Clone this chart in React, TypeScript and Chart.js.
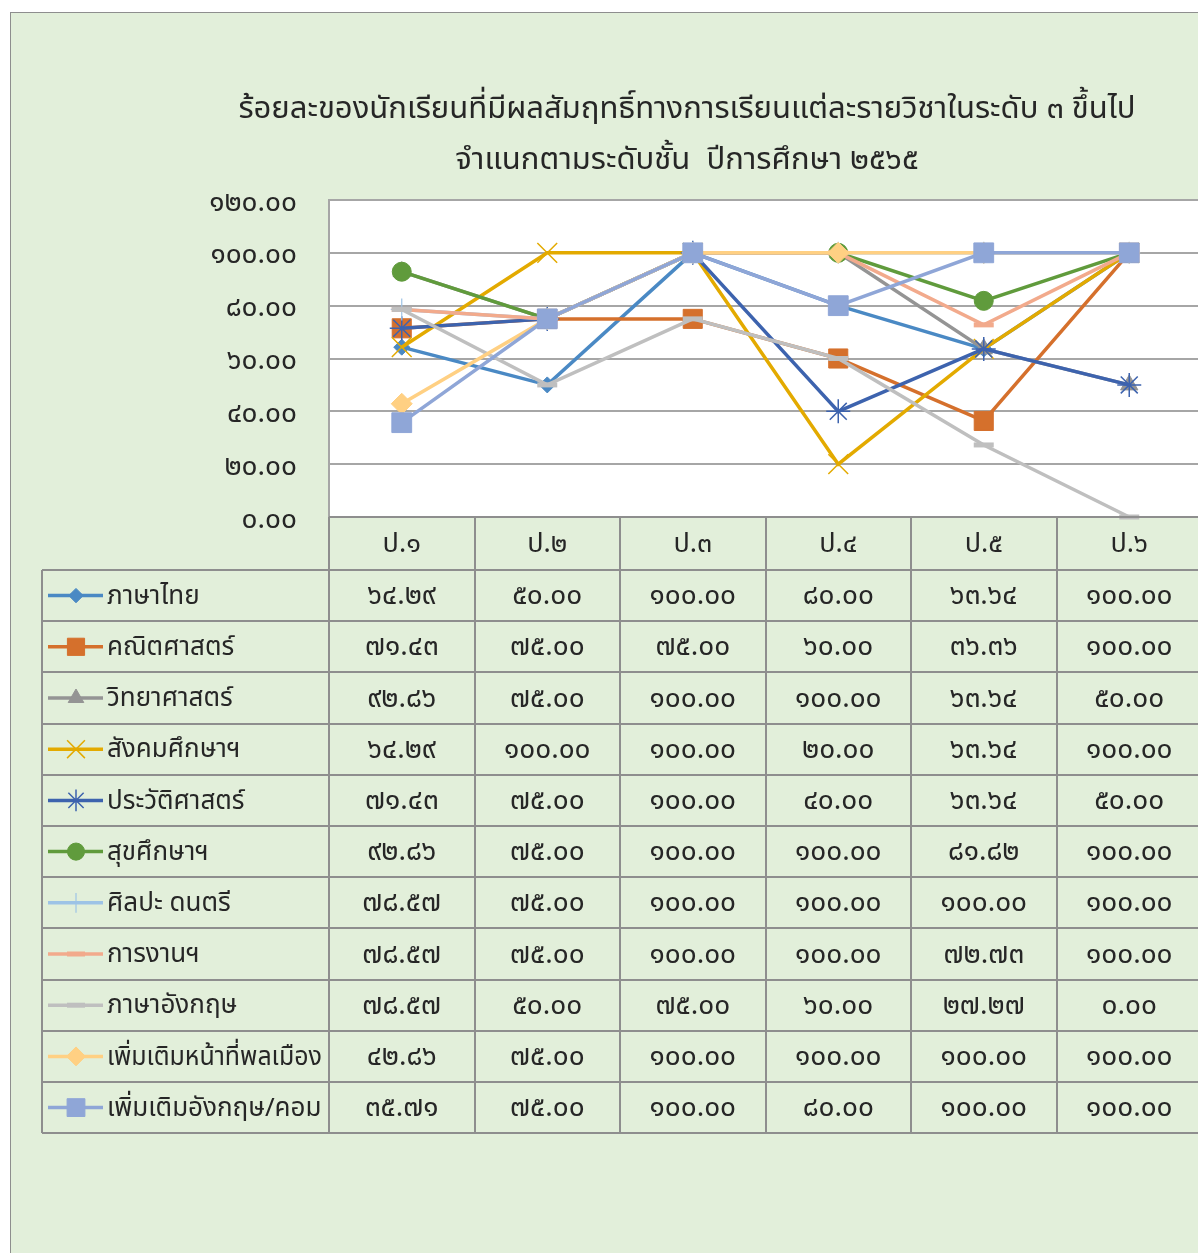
import React, { useEffect, useRef } from 'react';
import { Chart, registerables } from 'chart.js';
import { drawPoint } from 'chart.js/helpers';

Chart.register(...registerables);

// ---------- data ----------
const titleLines = [
  'ร้อยละของนักเรียนที่มีผลสัมฤทธิ์ทางการเรียนแต่ละรายวิชาในระดับ ๓ ขึ้นไป',
  'จำแนกตามระดับชั้น  ปีการศึกษา ๒๕๖๕',
];
const categories = ['ป.๑', 'ป.๒', 'ป.๓', 'ป.๔', 'ป.๕', 'ป.๖'];
const subjects = [
  'ภาษาไทย',
  'คณิตศาสตร์',
  'วิทยาศาสตร์',
  'สังคมศึกษาฯ',
  'ประวัติศาสตร์',
  'สุขศึกษาฯ',
  'ศิลปะ ดนตรี',
  'การงานฯ',
  'ภาษาอังกฤษ',
  'เพิ่มเติมหน้าที่พลเมือง',
  'เพิ่มเติมอังกฤษ/คอม',
];
const thai = [64.29, 50.0, 100.0, 80.0, 63.64, 100.0];
const math = [71.43, 75.0, 75.0, 60.0, 36.36, 100.0];
const science = [92.86, 75.0, 100.0, 100.0, 63.64, 50.0];
const social = [64.29, 100.0, 100.0, 20.0, 63.64, 100.0];
const history = [71.43, 75.0, 100.0, 40.0, 63.64, 50.0];
const health = [92.86, 75.0, 100.0, 100.0, 81.82, 100.0];
const arts = [78.57, 75.0, 100.0, 100.0, 100.0, 100.0];
const career = [78.57, 75.0, 100.0, 100.0, 72.73, 100.0];
const english = [78.57, 50.0, 75.0, 60.0, 27.27, 0.0];
const civics = [42.86, 75.0, 100.0, 100.0, 100.0, 100.0];
const engCom = [35.71, 75.0, 100.0, 80.0, 100.0, 100.0];
const seriesValues = [thai, math, science, social, history, health, arts, career, english, civics, engCom];
const yMin = 0;
const yMax = 120;
const yStep = 20;

// ---------- styles ----------
const colors = ['#4A89C4', '#D5702C', '#949494', '#E3AA00', '#3D63AE', '#609B3C', '#9DC3E6', '#F2AA8C', '#BFBFBF', '#FFD083', '#8FA6D7'];
const pointStyles: any[] = ['rectRot', 'rect', 'triangle', 'crossRot', 'star', 'circle', 'cross', 'line', 'line', 'rectRot', 'rect'];
const pointRadii = [8, 13.5, 10, 14, 12, 9.5, 11, 10, 10, 10.5, 14];
const pointBorderWidths = [1, 1, 1, 1.5, 1.5, 1, 1.2, 5, 5, 1, 1];

const W = 1204;
const H = 1253;
const FONT = 'Tahoma, "Noto Sans Thai", "Noto Sans", sans-serif';
const TEXT = '#262626';
const BG = '#E2EFDA';
const LINE = '#8E8E8E';
const HEADER_H = 53;
const ROW_H = 51.2;
const LEGEND_LEFT = 42;
const NUM_SIZE = 28;
const LABEL_SIZE = 26;

const THAI_DIGITS = '๐๑๒๓๔๕๖๗๘๙';
const toThai = (n: number) => n.toFixed(2).replace(/[0-9]/g, (d) => THAI_DIGITS[+d]);

const decorPlugin = {
  id: 'decor',
  beforeDraw(chart: any) {
    const { ctx, chartArea: a } = chart;
    ctx.save();
    ctx.fillStyle = '#ffffff';
    ctx.fillRect(0, 0, W, H);
    ctx.fillStyle = BG;
    ctx.fillRect(10.5, 12.5, W, H);
    ctx.strokeStyle = LINE;
    ctx.lineWidth = 1;
    ctx.strokeRect(10.5, 12.5, W + 20, H + 20);
    ctx.fillStyle = '#ffffff';
    ctx.fillRect(a.left, a.top, a.right - a.left, a.bottom - a.top);
    ctx.strokeStyle = '#A6A6A6';
    ctx.lineWidth = 2;
    ctx.strokeRect(a.left, a.top, a.right - a.left + 10, a.bottom - a.top);
    // title
    ctx.fillStyle = TEXT;
    ctx.font = `31px ${FONT}`;
    ctx.textAlign = 'center';
    ctx.textBaseline = 'middle';
    ctx.fillText(titleLines[0], 687, 112);
    ctx.fillText(titleLines[1], 687, 163);
    ctx.restore();
  },
  afterDraw(chart: any) {
    const { ctx, chartArea: a, scales } = chart;
    const x = scales.x;
    const n = categories.length;
    const colW = x.getPixelForValue(1) - x.getPixelForValue(0);
    const top = a.bottom;
    const rowsTop = top + HEADER_H;
    const bottom = rowsTop + ROW_H * subjects.length;
    ctx.save();
    ctx.strokeStyle = LINE;
    ctx.lineWidth = 2;
    // horizontal lines
    ctx.beginPath();
    ctx.moveTo(a.left, Math.round(top));
    ctx.lineTo(W, Math.round(top));
    for (let r = 0; r <= subjects.length; r++) {
      const y = Math.round(rowsTop + r * ROW_H);
      ctx.moveTo(LEGEND_LEFT, y);
      ctx.lineTo(W, y);
    }
    // vertical lines
    ctx.moveTo(LEGEND_LEFT, Math.round(rowsTop));
    ctx.lineTo(LEGEND_LEFT, Math.round(bottom));
    for (let i = 0; i <= n; i++) {
      const xx = Math.round(x.getPixelForValue(i) - colW / 2);
      ctx.moveTo(xx, top);
      ctx.lineTo(xx, Math.round(bottom));
    }
    ctx.stroke();

    // header
    ctx.fillStyle = TEXT;
    ctx.textAlign = 'center';
    ctx.textBaseline = 'middle';
    ctx.font = `${LABEL_SIZE + 1}px ${FONT}`;
    categories.forEach((c, i) => {
      ctx.fillText(c, x.getPixelForValue(i), top + HEADER_H / 2 + 3);
    });
    // rows
    seriesValues.forEach((vals, r) => {
      const cy = rowsTop + r * ROW_H + ROW_H / 2 + 3;
      ctx.font = `${NUM_SIZE}px ${FONT}`;
      vals.forEach((v, i) => {
        ctx.textAlign = 'center';
        ctx.fillStyle = TEXT;
        ctx.fillText(toThai(v), x.getPixelForValue(i), cy);
      });
      // legend key
      const ly = rowsTop + r * ROW_H + ROW_H / 2;
      ctx.strokeStyle = colors[r];
      ctx.lineWidth = 3.5;
      ctx.beginPath();
      ctx.moveTo(48, ly);
      ctx.lineTo(103, ly);
      ctx.stroke();
      ctx.fillStyle = colors[r];
      ctx.strokeStyle = colors[r];
      ctx.lineWidth = pointBorderWidths[r];
      drawPoint(ctx, { pointStyle: pointStyles[r], radius: pointRadii[r] * 0.9, rotation: 0, borderWidth: pointBorderWidths[r] } as any, 76, ly);
      ctx.fillStyle = TEXT;
      ctx.textAlign = 'left';
      ctx.font = `${LABEL_SIZE}px ${FONT}`;
      ctx.fillText(subjects[r], 107, cy, a.left - 107 - 7);
    });
    ctx.restore();
  },
};

export default function App() {
  const ref = useRef<HTMLCanvasElement | null>(null);
  useEffect(() => {
    if (!ref.current) return;
    const chart = new Chart(ref.current, {
      type: 'line',
      data: {
        labels: categories,
        datasets: seriesValues.map((vals, i) => ({
          label: subjects[i],
          data: vals,
          borderColor: colors[i],
          backgroundColor: colors[i],
          pointBackgroundColor: colors[i],
          pointBorderColor: colors[i],
          pointStyle: pointStyles[i],
          pointRadius: pointRadii[i],
          pointBorderWidth: pointBorderWidths[i],
          borderWidth: 3.5,
          tension: 0,
          fill: false,
          clip: false as any,
          order: seriesValues.length - i,
        })),
      },
      options: {
        responsive: false,
        animation: false,
        events: [],
        layout: { autoPadding: false, padding: { left: 10, top: 200, right: 2, bottom: H - 517 } },
        plugins: { legend: { display: false }, title: { display: false }, tooltip: { enabled: false } },
        scales: {
          x: { type: 'category', display: false, offset: true },
          y: {
            min: yMin,
            max: yMax,
            afterFit: (s: any) => {
              s.width = 319;
            },
            border: { display: true, color: '#A6A6A6', width: 2 },
            grid: { color: '#A6A6A6', lineWidth: 2, drawTicks: false },
            ticks: {
              stepSize: yStep,
              padding: 32,
              labelOffset: 5,
              color: TEXT,
              font: { family: FONT, size: NUM_SIZE },
              callback: (v: any) => toThai(Number(v)),
            },
          },
        },
      },
      plugins: [decorPlugin],
    });
    return () => chart.destroy();
  }, []);
  return (
    <div style={{ position: 'fixed', left: 0, top: 0, width: 1198, height: H, overflow: 'hidden', background: '#fff' }}>
      <canvas ref={ref} width={W} height={H} style={{ display: 'block', width: W, height: H }} />
    </div>
  );
}
